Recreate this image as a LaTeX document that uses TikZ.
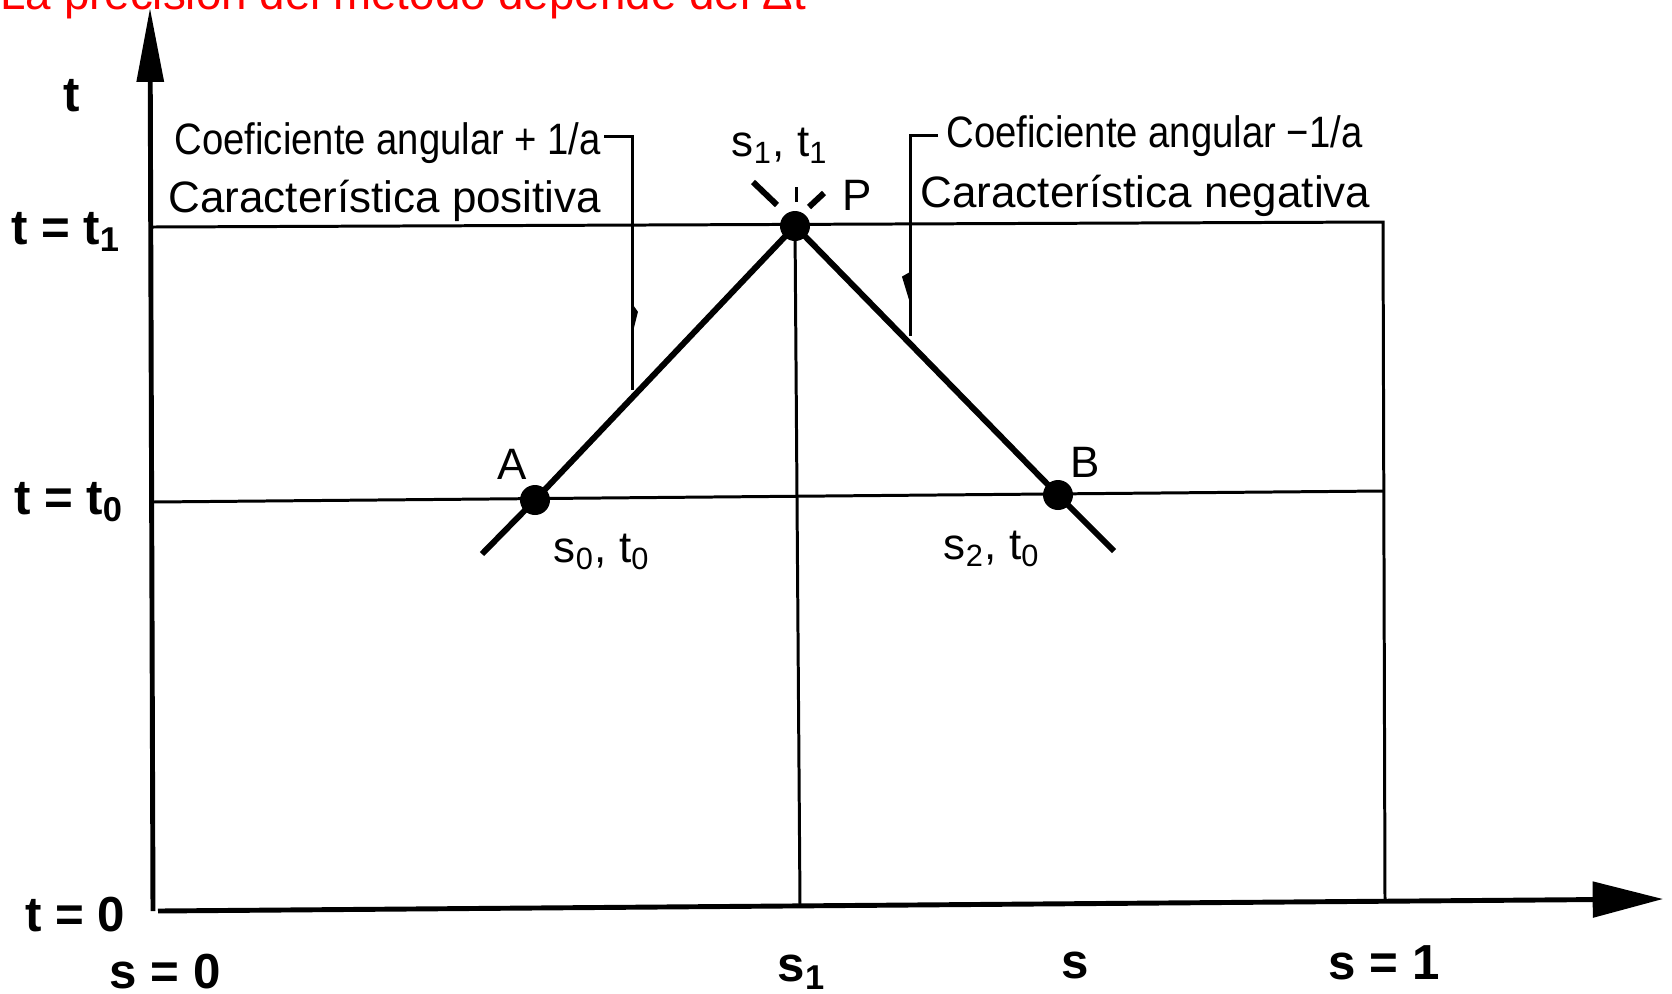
\documentclass[tikz,border=0pt]{standalone}
\usepackage{fontspec}
\usepackage{graphicx}
\setmainfont{Liberation Sans}
\usetikzlibrary{arrows.meta}
\tikzset{
  gridline/.style={line width=0.85pt},
  axisline/.style={line width=1.4pt},
  charline/.style={line width=1.7pt},
  leader/.style={line width=0.85pt},
  barb/.style={fill=black, draw=black, line width=0.5pt},
  ptdot/.style={circle, fill=black, inner sep=0pt, minimum size=3mm},
  lbl/.style={font=\fontsize{12.5}{14}\selectfont, inner sep=0pt},
  axlbl/.style={font=\bfseries\fontsize{14}{16}\selectfont, inner sep=0pt},
}
\newcommand{\condtext}[1]{\scalebox{0.87}[1]{#1}}
\begin{document}
\begin{tikzpicture}[x=0.01cm,y=-0.01cm]
\useasboundingbox (0,0) rectangle (1672,993);
% red caption (cropped at top)
\node[anchor=base east, text=red, font=\fontsize{13}{15}\selectfont, inner sep=0pt] (cap) at (807,9.5) {La precisión del método depende del Δt};
% coordinates
\coordinate (Obot) at (153,911);
\coordinate (Ytip) at (150,8);
\coordinate (Xstart) at (158,911);
\coordinate (Xtip) at (1663,899);
\coordinate (T1l) at (152,227);
\coordinate (T1r) at (1383,222);
\coordinate (T0l) at (152,502);
\coordinate (T0r) at (1383,491);
\coordinate (S1top) at (795,226);
\coordinate (S1bot) at (800,905);
\coordinate (Rbot) at (1385,900);
\coordinate (Lend) at (482,554);
\coordinate (Rend) at (1114,551);
% axes
\draw[axisline, -{Triangle[length=21pt,width=7.5pt]}] (Obot) -- (Ytip);
\draw[axisline, -{Triangle[length=20pt,width=10pt]}] (Xstart) -- (Xtip);
% grid lines
\draw[gridline] (T1l) -- (T1r) -- (Rbot);
\draw[gridline] (T0l) -- (T0r);
\draw[gridline] (S1top) -- (S1bot);
% points
\node[ptdot] (P) at (795,226) {};
\node[ptdot] (A) at (535,500) {};
\node[ptdot] (B) at (1058,495) {};
% characteristics
\draw[charline] (Lend) -- (A.center) -- (P.center);
\draw[charline] (P.center) -- (B.center) -- (Rend);
% stubs above P
\coordinate (st1a) at (753,182); \coordinate (st1b) at (777,205);
\coordinate (st2a) at (796,187); \coordinate (st2b) at (796,202);
\coordinate (st3a) at (824,193); \coordinate (st3b) at (809,207);
\draw[charline] (st1a) -- (st1b);
\draw[gridline] (st2a) -- (st2b);
\draw[charline] (st3a) -- (st3b);
% leaders
\coordinate (LL1) at (604,136); \coordinate (LL2) at (632,136); \coordinate (LL3) at (632,390);
\draw[leader] (LL1) -- (LL2) -- (LL3);
\fill[barb] (632,305) -- (637,312) -- (632,332) -- cycle;
\coordinate (RL1) at (938,135); \coordinate (RL2) at (910,135); \coordinate (RL3) at (910,336);
\draw[leader] (RL1) -- (RL2) -- (RL3);
\fill[barb] (910,273) -- (903,277) -- (910,300) -- cycle;
% texts
\node[lbl, anchor=base west] (c1) at (174,154) {\condtext{Coeficiente angular + 1/a}};
\node[lbl, anchor=base west] (c2) at (168,212) {Característica positiva};
\node[lbl, anchor=base west] (c3) at (946,147) {\condtext{Coeficiente angular −1/a}};
\node[lbl, anchor=base west] (c4) at (920,207) {Característica negativa};
\node[lbl] (lP) at (857,195) {P};
\node[lbl] (lA) at (512,464) {A};
\node[lbl] (lB) at (1085,462) {B};
\node[lbl] (lP2) at (780,146) {s\textsubscript{1}, t\textsubscript{1}};
\node[lbl] (lA2) at (602,552) {s\textsubscript{0}, t\textsubscript{0}};
\node[lbl] (lB2) at (992,549) {s\textsubscript{2}, t\textsubscript{0}};
% axis labels
\node[axlbl] (lt) at (72,96) {t};
\node[axlbl] (lt1) at (66,232) {t = t\textsubscript{1}};
\node[axlbl] (lt0) at (69,502) {t = t\textsubscript{0}};
\node[axlbl] (ltz) at (75,915) {t = 0};
\node[axlbl] (ls0) at (165,972) {s = 0};
\node[axlbl] (ls1) at (802,972) {s\textsubscript{1}};
\node[axlbl] (ls) at (1075,965) {s};
\node[axlbl] (lsl) at (1384,963) {s = 1};
\end{tikzpicture}
\end{document}
